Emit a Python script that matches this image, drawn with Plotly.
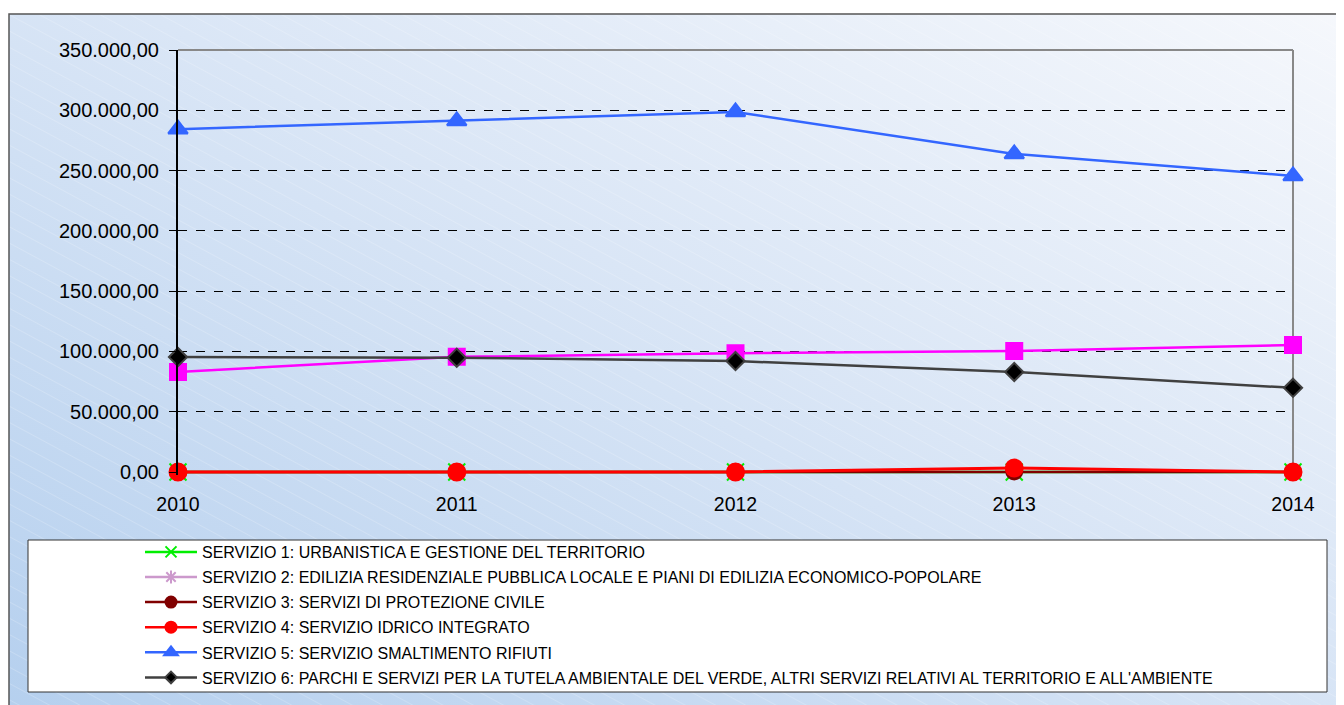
import base64
import plotly.graph_objects as go

years = [2010, 2011, 2012, 2013, 2014]
year_labels = ["2010", "2011", "2012", "2013", "2014"]

names = [
    "SERVIZIO 1: URBANISTICA E GESTIONE DEL TERRITORIO",
    "SERVIZIO 2: EDILIZIA RESIDENZIALE PUBBLICA LOCALE E PIANI DI EDILIZIA ECONOMICO-POPOLARE",
    "SERVIZIO 3: SERVIZI DI PROTEZIONE CIVILE",
    "SERVIZIO 4: SERVIZIO IDRICO INTEGRATO",
    "SERVIZIO 5: SERVIZIO SMALTIMENTO RIFIUTI",
    "SERVIZIO 6: PARCHI E SERVIZI PER LA TUTELA AMBIENTALE DEL VERDE, ALTRI SERVIZI RELATIVI AL TERRITORIO E ALL'AMBIENTE",
]

servizio1 = [0, 0, 0, 0, 0]
servizio2 = [83000, 95500, 98500, 100300, 105300]
servizio3 = [0, 0, 0, 500, 0]
servizio4 = [0, 0, 0, 3300, 0]
servizio5 = [284300, 291200, 298600, 263800, 245600]
servizio6 = [95300, 94800, 92000, 83000, 69800]

y_ticks = [0, 50000, 100000, 150000, 200000, 250000, 300000, 350000]
y_tick_labels = ["0,00", "50.000,00", "100.000,00", "150.000,00", "200.000,00",
                 "250.000,00", "300.000,00", "350.000,00"]

OFF = 8  # page body margin
W, H = 1344 - OFF, 705 - OFF
PAD = 3  # px of room below zero so the zero-level lines are not clipped
Y0 = 472 - OFF  # pixel of value 0
T = 50 - OFF
L, R = 178 - OFF, 1293 - OFF
B = Y0 + PAD
ymax = 350000
ymin = -PAD * ymax / (Y0 - T)
pw, ph = R - L, B - T


def px_x(p):
    return (p - OFF - L) / pw


def px_y(p):
    return (B - (p - OFF)) / ph


svg = f"""<svg xmlns='http://www.w3.org/2000/svg' width='{W}' height='{H}' viewBox='0 0 {W} {H}' preserveAspectRatio='none'>
<defs>
<linearGradient id='g' x1='1' y1='0' x2='0' y2='1'>
<stop offset='0' stop-color='#f6f8fc'/>
<stop offset='0.45' stop-color='#dae6f6'/>
<stop offset='1' stop-color='#b4cfee'/>
</linearGradient>
<pattern id='p' width='14' height='14' patternUnits='userSpaceOnUse' patternTransform='rotate(28)'>
<line x1='0' y1='0' x2='14' y2='0' stroke='#ffffff' stroke-width='1' stroke-opacity='0.35'/>
</pattern>
</defs>
<rect width='{W}' height='{H}' fill='url(#g)'/>
<rect width='{W}' height='{H}' fill='url(#p)'/>
</svg>"""
src = "data:image/svg+xml;base64," + base64.b64encode(svg.encode()).decode()

series = [
    (servizio1, "#00ee00", "x-thin", 17, "#00ee00", 0, 2.5),
    (servizio2, "#ff00ff", "square", 16, "#ff00ff", 0, 2.5),
    (servizio3, "#800000", "circle", 16, "#800000", 0, 2.5),
    (servizio4, "#ff0000", "circle", 17, "#ff0000", 0, 3),
    (servizio5, "#3366ff", "triangle-up", 17, "#3366ff", 0, 2.5),
    (servizio6, "#404040", "diamond", 14, "#000000", 2, 2.5),
]
legend_style = [
    ("#00ee00", "x-thin", 11, "#00ee00"),
    ("#cc99cc", "asterisk", 11, "#cc99cc"),
    ("#800000", "circle", 11, "#800000"),
    ("#ff0000", "circle", 11, "#ff0000"),
    ("#3366ff", "triangle-up", 12, "#3366ff"),
    ("#404040", "diamond", 9, "#000000"),
]

fig = go.Figure()
for i, (vals, col, sym, sz, mcol, lw, width) in enumerate(series):
    mline = dict(width=lw, color="#404040") if lw else dict(width=2, color=mcol)
    fig.add_trace(go.Scatter(
        x=years, y=vals, mode="lines+markers", name=names[i],
        line=dict(color=col, width=width),
        marker=dict(symbol=sym, size=sz, color=mcol, line=mline),
        showlegend=False, cliponaxis=False, legendgroup=f"g{i}",
    ))
for i, (col, sym, sz, mcol) in enumerate(legend_style):
    mline = dict(width=2, color="#404040") if sym == "diamond" else dict(width=2, color=mcol)
    fig.add_trace(go.Scatter(
        x=[None], y=[None], mode="lines+markers", name=names[i],
        line=dict(color=col, width=2.5),
        marker=dict(symbol=sym, size=sz, color=mcol, line=mline),
        legendgroup=f"g{i}",
    ))

fig.update_layout(
    width=W, height=H,
    margin=dict(l=L, r=W - R, t=T, b=H - B, pad=0, autoexpand=False),
    paper_bgcolor="white", plot_bgcolor="white",
    font=dict(family="Liberation Sans, Arial, sans-serif", color="black"),
    xaxis=dict(
        range=[2010, 2014], tickvals=years, ticktext=year_labels,
        showgrid=False, zeroline=False, showline=False, ticks="",
        tickfont=dict(size=19.5), ticklabelstandoff=15,
    ),
    yaxis=dict(
        range=[ymin, ymax], tickvals=y_ticks, ticktext=y_tick_labels,
        showgrid=True, gridcolor="#000000", griddash="dash", gridwidth=1,
        zeroline=False, showline=True, linecolor="black", linewidth=2,
        ticks="outside", ticklen=7, tickcolor="black", tickwidth=1,
        tickfont=dict(size=20), ticklabelstandoff=6,
    ),
    legend=dict(
        x=px_x(140), y=px_y(535), xanchor="left", yanchor="top",
        bgcolor="rgba(0,0,0,0)", borderwidth=0,
        font=dict(size=16, color="black"), itemwidth=52,
        tracegroupgap=1.3, traceorder="grouped",
    ),
    images=[dict(
        source=src, xref="paper", yref="paper",
        x=px_x(9), y=px_y(14), sizex=(W + 20) / pw, sizey=(H + 20) / ph,
        xanchor="left", yanchor="top", sizing="stretch", layer="below",
    )],
    shapes=[
        dict(type="rect", xref="paper", yref="paper",
             x0=px_x(9), x1=px_x(1360), y0=px_y(720), y1=px_y(14),
             line=dict(color="#555555", width=1.5), fillcolor="rgba(0,0,0,0)", layer="below"),
        dict(type="rect", xref="paper", yref="paper",
             x0=px_x(28), x1=px_x(1327), y0=px_y(692), y1=px_y(540),
             line=dict(color="#333333", width=1), fillcolor="white", layer="below"),
        dict(type="line", xref="paper", yref="paper", x0=0, x1=1, y0=1, y1=1,
             line=dict(color="#888888", width=2)),
        dict(type="line", xref="paper", yref="paper", x0=1, x1=1, y0=0, y1=1,
             line=dict(color="#888888", width=2), layer="below"),
    ],
)

fig.write_html("out.html")
